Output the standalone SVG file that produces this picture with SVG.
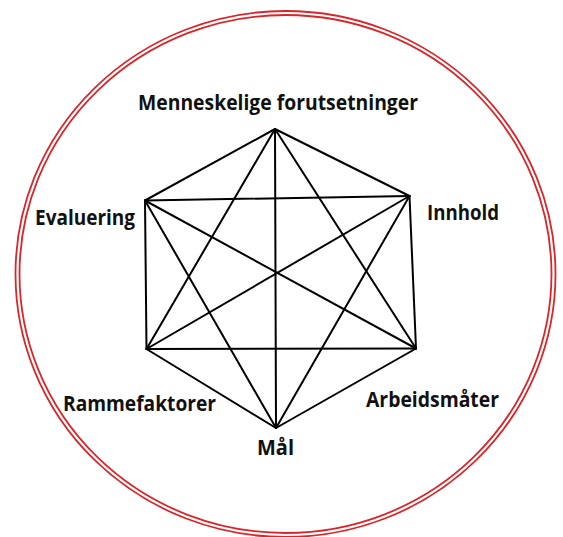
<svg xmlns="http://www.w3.org/2000/svg" width="563" height="537" viewBox="0 0 563 537">
<style>
.ring{fill:none;stroke:#d8262a;stroke-width:1.8}
.edge{stroke:#000;stroke-width:2;stroke-linecap:round}
.lbl{font-family:"Open Sans","Noto Sans","Liberation Sans",sans-serif;font-weight:700;font-size:21px;fill:#111}
</style>
<rect width="563" height="537" fill="#fff"/>
<g id="ring">
<ellipse class="ring" cx="285.5" cy="274" rx="270" ry="263"/>
<ellipse class="ring" cx="285.5" cy="274" rx="266" ry="259"/>
</g>
<g id="connectors">
<line class="edge" x1="275" y1="129" x2="409.5" y2="196"/>
<line class="edge" x1="275" y1="129" x2="416" y2="348.5"/>
<line class="edge" x1="275" y1="129" x2="276" y2="428"/>
<line class="edge" x1="275" y1="129" x2="146.5" y2="349"/>
<line class="edge" x1="275" y1="129" x2="145" y2="200.5"/>
<line class="edge" x1="409.5" y1="196" x2="416" y2="348.5"/>
<line class="edge" x1="409.5" y1="196" x2="276" y2="428"/>
<line class="edge" x1="409.5" y1="196" x2="146.5" y2="349"/>
<line class="edge" x1="409.5" y1="196" x2="145" y2="200.5"/>
<line class="edge" x1="416" y1="348.5" x2="276" y2="428"/>
<line class="edge" x1="416" y1="348.5" x2="146.5" y2="349"/>
<line class="edge" x1="416" y1="348.5" x2="145" y2="200.5"/>
<line class="edge" x1="276" y1="428" x2="146.5" y2="349"/>
<line class="edge" x1="276" y1="428" x2="145" y2="200.5"/>
<line class="edge" x1="146.5" y1="349" x2="145" y2="200.5"/>
</g>
<g id="node-menneskelige"><text class="lbl" x="138" y="110" textLength="280" lengthAdjust="spacingAndGlyphs">Menneskelige forutsetninger</text></g>
<g id="node-innhold"><text class="lbl" x="427" y="220" textLength="72" lengthAdjust="spacingAndGlyphs">Innhold</text></g>
<g id="node-arbeidsmater"><text class="lbl" x="366" y="407" textLength="133" lengthAdjust="spacingAndGlyphs">Arbeidsmåter</text></g>
<g id="node-mal"><text class="lbl" x="257" y="455" textLength="37" lengthAdjust="spacingAndGlyphs">Mål</text></g>
<g id="node-rammefaktorer"><text class="lbl" x="63" y="411" textLength="153" lengthAdjust="spacingAndGlyphs">Rammefaktorer</text></g>
<g id="node-evaluering"><text class="lbl" x="35" y="225" textLength="100" lengthAdjust="spacingAndGlyphs">Evaluering</text></g>
</svg>
